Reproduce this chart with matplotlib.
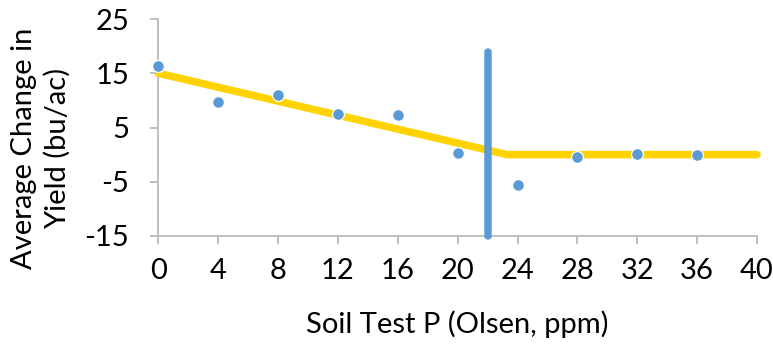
import matplotlib
matplotlib.use("Agg")
import matplotlib.pyplot as plt

# Data
soil_p = [0, 4, 8, 12, 16, 20, 24, 28, 32, 36]
yield_change = [16.3, 9.7, 11.0, 7.5, 7.3, 0.3, -5.6, -0.4, 0.2, -0.1]
fit_x = [0, 23.3, 40]
fit_y = [15.0, 0.0, 0.0]
critical_x = [22, 22]
critical_y = [-15, 19]
x_ticks = list(range(0, 41, 4))
y_ticks = [-15, -5, 5, 15, 25]

plt.rcParams['font.family'] = ['Lato', 'DejaVu Sans']
FS = 21

fig = plt.figure(figsize=(7.73, 3.44), dpi=100)
ax = fig.add_axes([158.3 / 773, 1 - 236 / 344, (757 - 158.3) / 773, (236 - 19) / 344])

grey = '#BFBFBF'
blue = '#5B9BD5'
yellow = '#FFD200'

ax.plot(fit_x, fit_y, color=yellow, lw=5.4, solid_capstyle='round', zorder=2, clip_on=False)
ax.plot(critical_x, critical_y, color=blue, lw=5.4, solid_capstyle='round', zorder=3, clip_on=False)
ax.plot(soil_p, yield_change, 'o', color=blue, markersize=8.5, markeredgecolor='white',
        markeredgewidth=0.9, zorder=4, clip_on=False)

ax.set_xlim(0, 40)
ax.set_ylim(-15, 25)
ax.set_xticks(x_ticks)
ax.set_yticks(y_ticks)
ax.set_xticklabels([str(v) for v in x_ticks])
ax.set_yticklabels([str(v) for v in y_ticks])

for s in ['top', 'right']:
    ax.spines[s].set_visible(False)
for s in ['left', 'bottom']:
    ax.spines[s].set_color(grey)
    ax.spines[s].set_linewidth(1.4)
    ax.spines[s].set_zorder(1)

ax.tick_params(axis='both', direction='out', length=6, width=1.4, color=grey,
               labelsize=FS, labelcolor='black')
ax.tick_params(axis='x', pad=10)
ax.tick_params(axis='y', pad=15)

fig.text(457 / 773, 1 - 324 / 344, 'Soil Test P (Olsen, ppm)', ha='center', va='center',
         fontsize=FS, color='black')
fig.text(41 / 773, 1 - 148 / 344, 'Average Change in\nYield (bu/ac)', ha='center', va='center',
         rotation=90, multialignment='center', fontsize=FS, color='black', linespacing=1.3)

fig.savefig('out.png', dpi=100)
